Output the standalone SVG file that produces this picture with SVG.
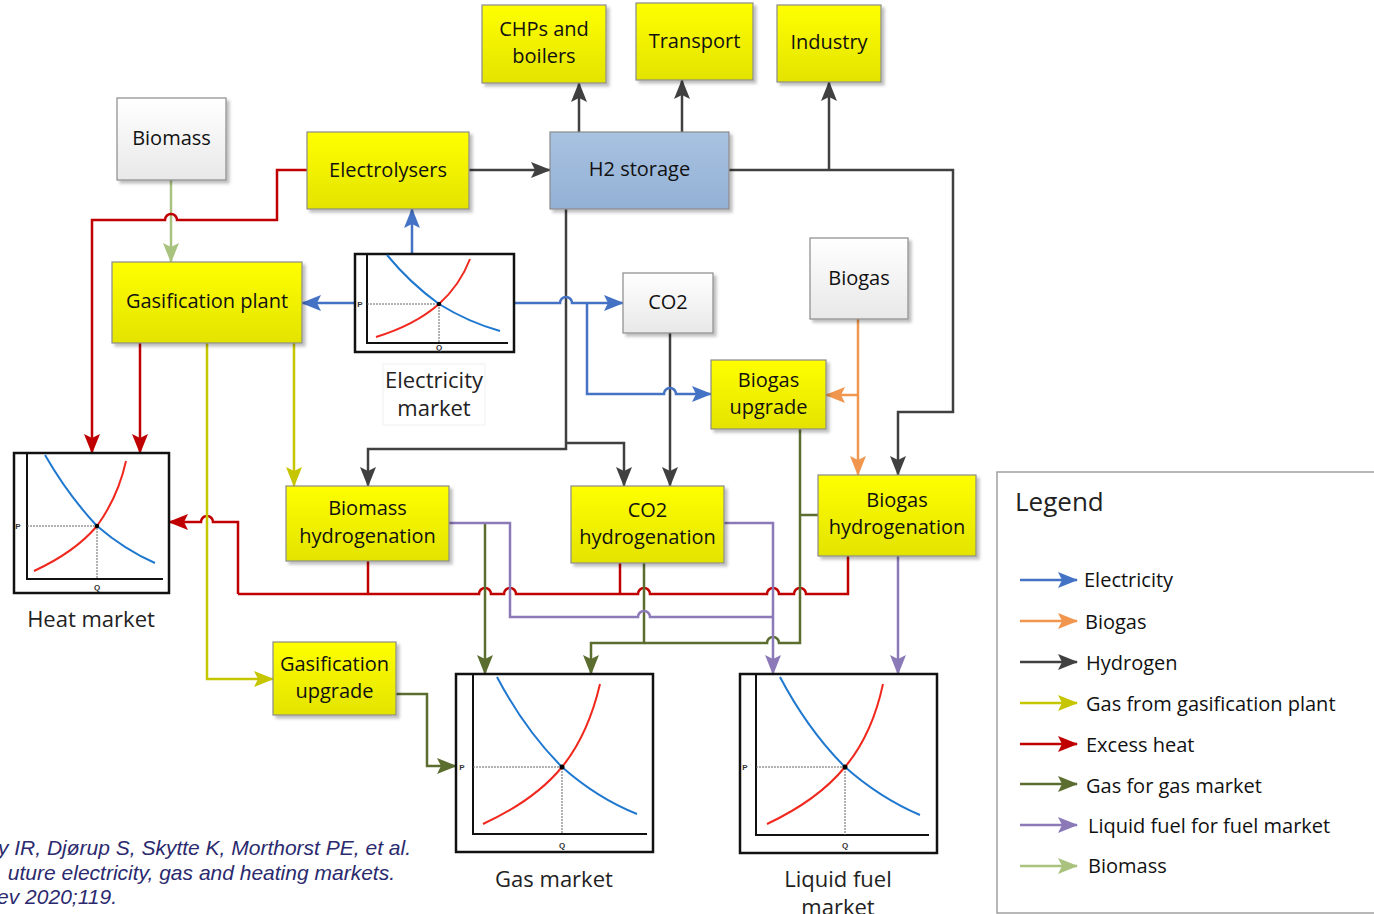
<svg xmlns="http://www.w3.org/2000/svg" width="1374" height="914" viewBox="0 0 1374 914">
<style>
.box{stroke:#8a8a8a;stroke-width:1.2}
.y{fill:url(#gy)}
.g{fill:url(#gg)}
.b{fill:url(#gb)}
.t{font-family:"Open Sans","Lato",sans-serif;font-size:20px;fill:#111;text-anchor:middle}
.mt{font-family:"Open Sans","Lato",sans-serif;font-size:22px;fill:#222;text-anchor:middle}
.lt{font-family:"Open Sans","Lato",sans-serif;font-size:20px;fill:#111}
.c{fill:none;stroke-width:2.5;stroke-linejoin:miter}
.h{stroke:#404040}.e{stroke:#4472C4}.bm{stroke:#A9C27E}.x{stroke:#C00000}.gy{stroke:#C5C500}.gm{stroke:#5B6E30}.p{stroke:#8B79B8}.o{stroke:#F0964E}
.frame{fill:#fff;stroke:#111;stroke-width:2.5}
.ax{fill:none;stroke:#111;stroke-width:2}
.dem{fill:none;stroke:#1F78D0;stroke-width:2}
.sup{fill:none;stroke:#F0281E;stroke-width:2}
.dot{fill:none;stroke:#666;stroke-width:1;stroke-dasharray:2 1}
.pq{font-family:"Liberation Sans",sans-serif;font-size:8px;font-weight:bold;fill:#333;text-anchor:middle}
.cit{font-family:"Liberation Sans",Arial,sans-serif;font-size:21px;font-style:italic;fill:#2B2A6E;text-anchor:end}
</style>
<defs>
<linearGradient id="gy" x1="0" y1="0" x2="0" y2="1"><stop offset="0" stop-color="#FFFF00"/><stop offset="1" stop-color="#E3E300"/></linearGradient>
<linearGradient id="gg" x1="0" y1="0" x2="0" y2="1"><stop offset="0" stop-color="#FFFFFF"/><stop offset="1" stop-color="#E8E8E8"/></linearGradient>
<linearGradient id="gb" x1="0" y1="0" x2="0" y2="1"><stop offset="0" stop-color="#A8C2E1"/><stop offset="1" stop-color="#93B1D5"/></linearGradient>
<filter id="sh" x="-10%" y="-10%" width="130%" height="130%"><feDropShadow dx="3" dy="3" stdDeviation="1.5" flood-color="#000" flood-opacity="0.25"/></filter>
<marker id="mh" viewBox="0 0 20 16" refX="19" refY="8" markerWidth="20" markerHeight="16" markerUnits="userSpaceOnUse" orient="auto"><path d="M0,0 L20,8 L0,16 L4,8 z" fill="#404040"/></marker>
<marker id="me" viewBox="0 0 20 16" refX="19" refY="8" markerWidth="20" markerHeight="16" markerUnits="userSpaceOnUse" orient="auto"><path d="M0,0 L20,8 L0,16 L4,8 z" fill="#4472C4"/></marker>
<marker id="mbm" viewBox="0 0 20 16" refX="19" refY="8" markerWidth="20" markerHeight="16" markerUnits="userSpaceOnUse" orient="auto"><path d="M0,0 L20,8 L0,16 L4,8 z" fill="#A9C27E"/></marker>
<marker id="mx" viewBox="0 0 20 16" refX="19" refY="8" markerWidth="20" markerHeight="16" markerUnits="userSpaceOnUse" orient="auto"><path d="M0,0 L20,8 L0,16 L4,8 z" fill="#C00000"/></marker>
<marker id="mgy" viewBox="0 0 20 16" refX="19" refY="8" markerWidth="20" markerHeight="16" markerUnits="userSpaceOnUse" orient="auto"><path d="M0,0 L20,8 L0,16 L4,8 z" fill="#C5C500"/></marker>
<marker id="mgm" viewBox="0 0 20 16" refX="19" refY="8" markerWidth="20" markerHeight="16" markerUnits="userSpaceOnUse" orient="auto"><path d="M0,0 L20,8 L0,16 L4,8 z" fill="#5B6E30"/></marker>
<marker id="mp" viewBox="0 0 20 16" refX="19" refY="8" markerWidth="20" markerHeight="16" markerUnits="userSpaceOnUse" orient="auto"><path d="M0,0 L20,8 L0,16 L4,8 z" fill="#8B79B8"/></marker>
<marker id="mo" viewBox="0 0 20 16" refX="19" refY="8" markerWidth="20" markerHeight="16" markerUnits="userSpaceOnUse" orient="auto"><path d="M0,0 L20,8 L0,16 L4,8 z" fill="#F0964E"/></marker>
</defs>
<rect width="1374" height="914" fill="#fff"/>

<g id="connectors">
<path class="c h" d="M469,170 H550" marker-end="url(#mh)"/>
<path class="c h" d="M579,132 V83" marker-end="url(#mh)"/>
<path class="c h" d="M682,132 V80" marker-end="url(#mh)"/>
<path class="c h" d="M729,170 H953 V412 H898 V475" marker-end="url(#mh)"/>
<path class="c h" d="M829,170 V82" marker-end="url(#mh)"/>
<path class="c h" d="M566,209 V449 H368 V486" marker-end="url(#mh)"/>
<path class="c h" d="M566,443 H624 V486" marker-end="url(#mh)"/>
<path class="c h" d="M670,333 V486" marker-end="url(#mh)"/>
<path class="c e" d="M412,254 V209" marker-end="url(#me)"/>
<path class="c e" d="M355,303 H302" marker-end="url(#me)"/>
<path class="c e" d="M514,303 H560 a6,6 0 0 1 12,0 H623" marker-end="url(#me)"/>
<path class="c e" d="M587,303 V394 H664 a6,6 0 0 1 12,0 H711" marker-end="url(#me)"/>
<path class="c bm" d="M171,180 V262" marker-end="url(#mbm)"/>
<path class="c o" d="M858,319 V475" marker-end="url(#mo)"/>
<path class="c o" d="M858,395 H826" marker-end="url(#mo)"/>
<path class="c x" d="M307,170 H277 V220 H177 a6,6 0 0 0 -12,0 H92 V453" marker-end="url(#mx)"/>
<path class="c x" d="M140,343 V453" marker-end="url(#mx)"/>
<path class="c x" d="M238,594 V522 H213 a6,6 0 0 0 -12,0 H169" marker-end="url(#mx)"/>
<path class="c x" d="M238,594 H479 a6,6 0 0 1 12,0 H504 a6,6 0 0 1 12,0 H638 a6,6 0 0 1 12,0 H767 a6,6 0 0 1 12,0 H794 a6,6 0 0 1 12,0 H848 V556"/>
<path class="c x" d="M368,561 V594"/>
<path class="c x" d="M620,563 V594"/>
<path class="c gy" d="M294,343 V486" marker-end="url(#mgy)"/>
<path class="c gy" d="M207,343 V679 H273" marker-end="url(#mgy)"/>
<path class="c gm" d="M396,694 H427 V766 H456" marker-end="url(#mgm)"/>
<path class="c gm" d="M485,523 V674" marker-end="url(#mgm)"/>
<path class="c gm" d="M644,563 V643 H591 V674" marker-end="url(#mgm)"/>
<path class="c gm" d="M644,643 H767 a6,6 0 0 1 12,0 H800 V429"/>
<path class="c gm" d="M800,515 H818"/>
<path class="c p" d="M449,523 H510 V617 H638 a6,6 0 0 1 12,0 H773"/>
<path class="c p" d="M724,523 H773 V674" marker-end="url(#mp)"/>
<path class="c p" d="M898,556 V674" marker-end="url(#mp)"/>
</g>

<g id="chps" filter="url(#sh)"><rect class="box y" x="482" y="5" width="124" height="78"/></g>
<text class="t" x="544" y="36">CHPs and</text><text class="t" x="544" y="63">boilers</text>
<g id="transport" filter="url(#sh)"><rect class="box y" x="636" y="3" width="117" height="77"/></g>
<text class="t" x="694.5" y="48">Transport</text>
<g id="industry" filter="url(#sh)"><rect class="box y" x="777" y="5" width="104" height="77"/></g>
<text class="t" x="829" y="49">Industry</text>
<g id="h2storage" filter="url(#sh)"><rect class="box b" x="550" y="132" width="179" height="77"/></g>
<text class="t" x="639.5" y="176">H2 storage</text>
<g id="electrolysers" filter="url(#sh)"><rect class="box y" x="307" y="132" width="162" height="77"/></g>
<text class="t" x="388" y="177">Electrolysers</text>
<g id="biomass" filter="url(#sh)"><rect class="box g" x="117" y="98" width="109" height="82"/></g>
<text class="t" x="171.5" y="145">Biomass</text>
<g id="gasification-plant" filter="url(#sh)"><rect class="box y" x="112" y="262" width="190" height="81"/></g>
<text class="t" x="207" y="308">Gasification plant</text>
<g id="co2" filter="url(#sh)"><rect class="box g" x="623" y="273" width="90" height="60"/></g>
<text class="t" x="668" y="309">CO2</text>
<g id="biogas" filter="url(#sh)"><rect class="box g" x="810" y="238" width="98" height="81"/></g>
<text class="t" x="859" y="285">Biogas</text>
<g id="biogas-upgrade" filter="url(#sh)"><rect class="box y" x="711" y="360" width="115" height="69"/></g>
<text class="t" x="768.5" y="387">Biogas</text><text class="t" x="768.5" y="414">upgrade</text>
<g id="biogas-hydrogenation" filter="url(#sh)"><rect class="box y" x="818" y="475" width="158" height="81"/></g>
<text class="t" x="897" y="507">Biogas</text><text class="t" x="897" y="534">hydrogenation</text>
<g id="biomass-hydrogenation" filter="url(#sh)"><rect class="box y" x="286" y="486" width="163" height="75"/></g>
<text class="t" x="367.5" y="515">Biomass</text><text class="t" x="367.5" y="543">hydrogenation</text>
<g id="co2-hydrogenation" filter="url(#sh)"><rect class="box y" x="571" y="486" width="153" height="77"/></g>
<text class="t" x="647.5" y="517">CO2</text><text class="t" x="647.5" y="544">hydrogenation</text>
<g id="gasification-upgrade" filter="url(#sh)"><rect class="box y" x="273" y="642" width="123" height="73"/></g>
<text class="t" x="334.5" y="671">Gasification</text><text class="t" x="334.5" y="698">upgrade</text>

<g id="electricity-market">
<rect class="frame" x="355" y="254" width="159" height="98"/>
<path class="ax" d="M367,254 V343 H508"/>
<path class="dot" d="M367,304 H439 V343"/>
<path class="dem" d="M387,255 Q410,283 439,304 Q468,322 500,331"/>
<path class="sup" d="M376,337 Q415,325 439,304 Q460,285 470,259"/>
<circle cx="439" cy="304" r="2.2" fill="#000"/>
<text class="pq" x="360" y="307">P</text><text class="pq" x="439" y="350">Q</text>
<rect x="383" y="364" width="102" height="61" fill="none" stroke="#F0F0F0" stroke-width="1"/>
<text class="mt" x="434" y="388">Electricity</text><text class="mt" x="434" y="416">market</text>
</g>

<g id="heat-market">
<rect class="frame" x="14" y="453" width="155" height="140"/>
<path class="ax" d="M27,453 V579 H163"/>
<path class="dot" d="M27,526 H97 V579"/>
<path class="dem" d="M45,455 Q68,495 97,526 Q125,550 155,563"/>
<path class="sup" d="M34,571 Q75,552 97,526 Q118,497 126,461"/>
<circle cx="97" cy="526" r="2.2" fill="#000"/>
<text class="pq" x="18" y="529">P</text><text class="pq" x="97" y="590">Q</text>
<text class="mt" x="91" y="627">Heat market</text>
</g>

<g id="gas-market">
<rect class="frame" x="456" y="674" width="197" height="178"/>
<path class="ax" d="M473,674 V834 H647"/>
<path class="dot" d="M473,767 H562 V834"/>
<path class="dem" d="M497,677 Q525,730 562,767 Q597,798 637,814"/>
<path class="sup" d="M483,824 Q535,800 562,767 Q588,735 600,684"/>
<circle cx="562" cy="767" r="2.5" fill="#000"/>
<text class="pq" x="462" y="770">P</text><text class="pq" x="562" y="848">Q</text>
<text class="mt" x="554" y="887">Gas market</text>
</g>

<g id="liquid-fuel-market">
<rect class="frame" x="740" y="674" width="197" height="179"/>
<path class="ax" d="M756,674 V835 H929"/>
<path class="dot" d="M756,767 H845 V835"/>
<path class="dem" d="M780,677 Q808,730 845,767 Q880,798 920,815"/>
<path class="sup" d="M767,824 Q818,800 845,767 Q872,735 883,684"/>
<circle cx="845" cy="767" r="2.5" fill="#000"/>
<text class="pq" x="745" y="770">P</text><text class="pq" x="845" y="848">Q</text>
<text class="mt" x="838" y="887">Liquid fuel</text><text class="mt" x="838" y="915">market</text>
</g>

<g id="legend">
<rect x="997" y="472" width="400" height="441" fill="#fff" stroke="#A0A0A0" stroke-width="1.5"/>
<text x="1015" y="511" style="font-family:'Open Sans','Lato',sans-serif;font-size:26px;fill:#222">Legend</text>
<path class="c e" d="M1020,580 H1077" marker-end="url(#me)"/>
<path class="c o" d="M1020,621 H1077" marker-end="url(#mo)"/>
<path class="c h" d="M1020,662 H1077" marker-end="url(#mh)"/>
<path class="c gy" d="M1020,703 H1077" marker-end="url(#mgy)"/>
<path class="c x" d="M1020,744 H1077" marker-end="url(#mx)"/>
<path class="c gm" d="M1020,784 H1077" marker-end="url(#mgm)"/>
<path class="c p" d="M1020,825 H1077" marker-end="url(#mp)"/>
<path class="c bm" d="M1020,866 H1077" marker-end="url(#mbm)"/>
<text class="lt" x="1084" y="587">Electricity</text>
<text class="lt" x="1085" y="629">Biogas</text>
<text class="lt" x="1086" y="670">Hydrogen</text>
<text class="lt" x="1086" y="711">Gas from gasification plant</text>
<text class="lt" x="1086" y="752">Excess heat</text>
<text class="lt" x="1086" y="793">Gas for gas market</text>
<text class="lt" x="1088" y="833">Liquid fuel for fuel market</text>
<text class="lt" x="1088" y="873">Biomass</text>
</g>

<g id="citation">
<text class="cit" x="411" y="855">y IR, Djørup S, Skytte K, Morthorst PE, et al.</text>
<text class="cit" x="395" y="880">uture electricity, gas and heating markets.</text>
<text class="cit" x="117" y="904">ev 2020;119.</text>
</g>
</svg>
